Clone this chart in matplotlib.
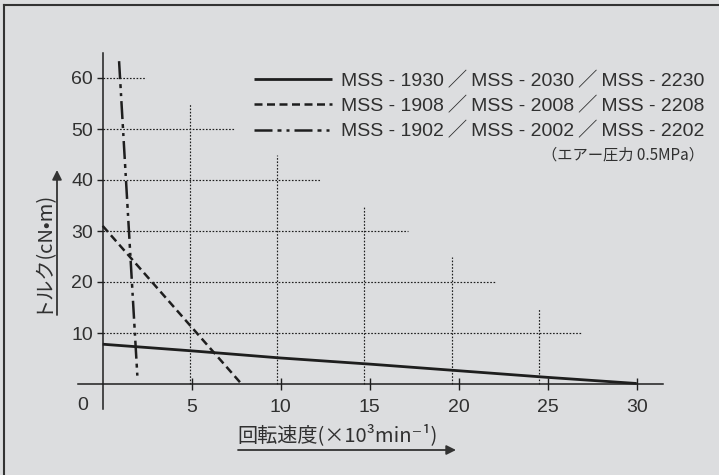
import matplotlib
matplotlib.use("Agg")
import matplotlib.pyplot as plt
from matplotlib.lines import Line2D

# ---- data -------------------------------------------------------------
speed_1930 = [0, 5, 10, 15, 20, 25, 30]
torque_1930 = [7.8, 6.5, 5.1, 3.9, 2.6, 1.3, 0.1]
speed_1908 = [0, 7.8]
torque_1908 = [31, 0]
speed_1902 = [0.92, 1.96]
torque_1902 = [63.3, 0.8]

SEP = "\u2009／\u2009"
labels = [SEP.join(["MSS - 1930", "MSS - 2030", "MSS - 2230"]),
          SEP.join(["MSS - 1908", "MSS - 2008", "MSS - 2208"]),
          SEP.join(["MSS - 1902", "MSS - 2002", "MSS - 2202"])]
note = "（エアー圧力 0.5MPa）"
xlabel = "回転速度(×10³min⁻¹)"
ylabel = "トルク(cN•m)"

xticks = [5, 10, 15, 20, 25, 30]
yticks = [10, 20, 30, 40, 50, 60]

# staircase grid
vgrid_x = [4.9, 9.8, 14.7, 19.6, 24.5]
vgrid_top = [55, 45, 35, 25, 15]
hgrid_y = [60, 50, 40, 30, 20, 10]
hgrid_end = [2.45, 7.35, 12.25, 17.15, 22.05, 26.95]

# ---- style -------------------------------------------------------------
BG = "#dcdddf"
INK = "#1e1e1e"
TXT = "#303030"
FAM = ["Liberation Sans", "DejaVu Sans", "Noto Sans CJK JP"]
CJK = ["Noto Sans CJK JP", "DejaVu Sans"]
plt.rcParams["font.family"] = FAM

W, H = 719, 475
fig = plt.figure(figsize=(W / 100, H / 100), dpi=100, facecolor=BG)
ax = fig.add_axes([0, 0, 1, 1], facecolor=BG)

# pixel layout of the plotting frame
X0PX, XS = 102.7, 17.8
Y0PX, YS = 384.0, 5.1
ax.set_xlim(-X0PX / XS, (W - X0PX) / XS)
ax.set_ylim((Y0PX - H) / YS, Y0PX / YS)

for s in ["top", "right"]:
    ax.spines[s].set_visible(False)
ax.spines["left"].set_position(("data", 0))
ax.spines["bottom"].set_position(("data", 0))
ax.spines["left"].set_bounds(-4.9, 65)
ax.spines["bottom"].set_bounds(-1.4, 31.5)
for s in ["left", "bottom"]:
    ax.spines[s].set_color(INK)
    ax.spines[s].set_linewidth(1.1)

ax.set_xticks(xticks)
ax.set_xticklabels([str(t) for t in xticks])
ax.set_yticks(yticks)
ax.set_yticklabels([str(t) for t in yticks])
ax.tick_params(axis="x", direction="inout", length=9, width=1.0, color=INK,
               labelsize=14, labelcolor=TXT, pad=6)
ax.tick_params(axis="y", direction="out", length=4, width=1.0, color=INK,
               labelsize=14, labelcolor=TXT, pad=3)
ax.text(-1.15, -4.2, "0", fontsize=14, color=TXT, ha="center", va="center")

# dotted staircase grid
dot = (0, (1.4, 1.4))
for x, top in zip(vgrid_x, vgrid_top):
    ax.plot([x, x], [0, top], color=INK, lw=0.85, ls=dot, zorder=1)
for y, end in zip(hgrid_y, hgrid_end):
    ax.plot([0, end], [y, y], color=INK, lw=0.85, ls=dot, zorder=1)

# curves
l1, = ax.plot(speed_1930, torque_1930, color=INK, lw=2.0,
              solid_capstyle="butt", zorder=3)
l2, = ax.plot(speed_1908, torque_1908, color=INK, lw=1.8,
              ls=(0, (3.2, 1.8)), zorder=3)
l3, = ax.plot(speed_1902, torque_1902, color=INK, lw=1.8,
              ls=(0, (7.2, 2.0, 1.6, 2.0, 1.2, 2.0)), zorder=3)

leg = ax.legend([l1, l2, l3], labels, loc="upper left",
                bbox_to_anchor=(254 / W, 1 - 72 / H),
                bbox_transform=fig.transFigure, frameon=False,
                fontsize=14, handlelength=4.0, handletextpad=0.45,
                labelspacing=0.36, borderpad=0, borderaxespad=0)
for t in leg.get_texts():
    t.set_color(TXT)

fig.text(704 / W, 1 - 155 / H, note, fontsize=11, color=TXT,
         ha="right", va="center", family=CJK)

# axis titles with arrows
fig.text(237 / W, 1 - 435 / H, xlabel, fontsize=14.5, color=TXT,
         ha="left", va="center", family=CJK)
ax.annotate("", xy=(456 / W, 1 - 450 / H), xytext=(238 / W, 1 - 450 / H),
            xycoords="figure fraction", textcoords="figure fraction",
            arrowprops=dict(arrowstyle="-|>", color="#333333", lw=1.3,
                            mutation_scale=14, shrinkA=0, shrinkB=0))
fig.text(41 / W, 1 - 251 / H, ylabel, fontsize=14.5, color=TXT,
         ha="center", va="center", rotation=90, family=CJK)
ax.annotate("", xy=(57 / W, 1 - 170 / H), xytext=(57 / W, 1 - 315 / H),
            xycoords="figure fraction", textcoords="figure fraction",
            arrowprops=dict(arrowstyle="-|>", color="#333333", lw=1.3,
                            mutation_scale=14, shrinkA=0, shrinkB=0))

# outer frame (top and left edges)
fig.add_artist(Line2D([4 / W, 4 / W], [0, 1 - 5 / H], transform=fig.transFigure,
                      color="#333333", lw=1.5))
fig.add_artist(Line2D([4 / W, 1], [1 - 5 / H, 1 - 5 / H], transform=fig.transFigure,
                      color="#333333", lw=1.5))

fig.savefig("out.png", dpi=100, facecolor=BG)
